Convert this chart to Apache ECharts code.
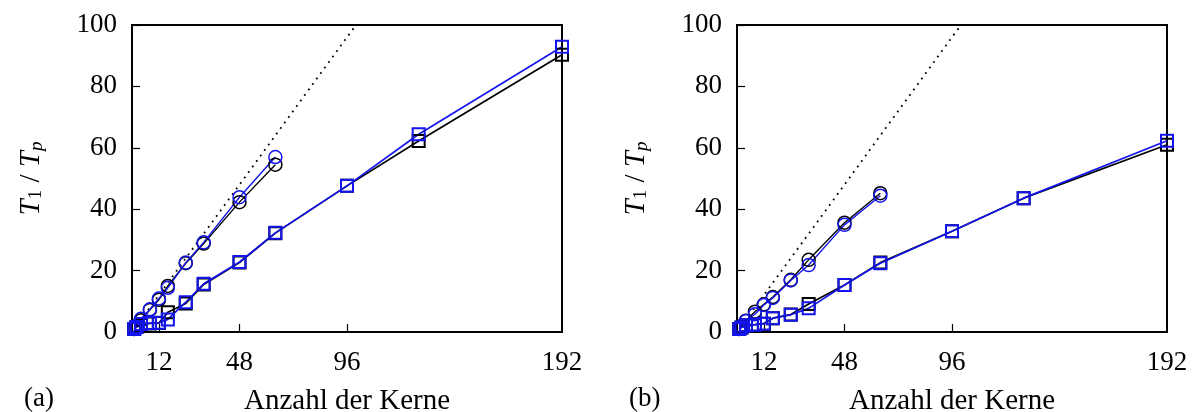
<!DOCTYPE html>
<html>
<head>
<meta charset="utf-8">
<script src="https://cdn.jsdelivr.net/npm/echarts@6/dist/echarts.min.js"></script>
<style>
  html, body { margin: 0; padding: 0; background: #fff; }
  #main { width: 1194px; height: 412px; }
</style>
</head>
<body>
<div id="main"></div>
<script>
// Anzahl der Kerne
const coresCircle = [1, 2, 4, 8, 12, 16, 24, 32, 48, 64];
const coresSquare = [1, 2, 4, 8, 12, 16, 24, 32, 48, 64, 96, 128, 192];
const xTickLabels = [12, 48, 96, 192];
const ideal = [0, 100];

// (a)
const aBlackCircle = [1, 1.9, 3.8, 7.2, 10.5, 15.0, 22.4, 28.8, 42.3, 54.5];
const aBlueCircle  = [1, 1.9, 4.3, 7.4, 10.9, 14.4, 22.6, 29.2, 43.9, 57.0];
const aBlackSquare = [1, 1.6, 2.3, 2.8, 2.9, 6.4, 9.3, 15.5, 22.6, 32.2, 47.6, 62.2, 90.3];
const aBlueSquare  = [1, 1.6, 2.6, 2.9, 3.0, 4.1, 9.7, 15.7, 22.8, 32.3, 47.6, 64.4, 92.9];

// (b)
const bBlackCircle = [1, 1.9, 3.7, 6.6, 9.0, 11.4, 17.0, 23.5, 35.6, 45.2];
const bBlueCircle  = [1, 1.9, 3.6, 5.8, 8.8, 11.1, 16.8, 21.8, 34.9, 44.4];
const bBlackSquare = [1, 1.5, 2.2, 2.4, 2.7, 4.5, 5.7, 9.1, 15.3, 22.6, 32.8, 43.6, 61.0];
const bBlueSquare  = [1, 1.5, 2.2, 2.4, 2.7, 4.5, 5.6, 7.7, 15.3, 22.4, 32.8, 43.6, 62.3];

const FONT = 'Liberation Serif';
const BLUE = '#1414ee';

function pairs(xs, ys) {
    return xs.map((x, i) => [x, ys[i]]);
}

function xAxisFor(idx) {
    return {
        type: 'value', gridIndex: idx, min: 0, max: 192,
        name: 'Anzahl der Kerne', nameLocation: 'middle', nameGap: 55,
        nameTextStyle: { fontFamily: FONT, fontSize: 29, color: '#000' },
        axisLine: { show: true, onZero: false, lineStyle: { color: '#000', width: 2 } },
        axisTick: { show: true, inside: true, length: 8, customValues: [12, 48, 96], lineStyle: { color: '#000', width: 1.2 } },
        axisLabel: { customValues: xTickLabels, margin: 17, fontFamily: FONT, fontSize: 27, color: '#000' },
        splitLine: { show: false }
    };
}

function yAxisFor(idx) {
    return {
        type: 'value', gridIndex: idx, min: 0, max: 100, interval: 20,
        name: '{i|T}{s|1}{n| / }{i|T}{sp|p}', nameLocation: 'middle', nameGap: 86,
        nameTextStyle: {
            color: '#000',
            rich: {
                i: { fontFamily: FONT, fontSize: 29, fontStyle: 'italic', color: '#000', lineHeight: 32, verticalAlign: 'bottom' },
                s: { fontFamily: FONT, fontSize: 19, color: '#000', lineHeight: 14, verticalAlign: 'bottom' },
                sp: { fontFamily: FONT, fontSize: 19, fontStyle: 'italic', color: '#000', lineHeight: 14, verticalAlign: 'bottom' },
                n: { fontFamily: FONT, fontSize: 29, color: '#000', lineHeight: 32, verticalAlign: 'bottom' }
            }
        },
        axisLine: { show: true, lineStyle: { color: '#000', width: 2 } },
        axisTick: { show: true, inside: true, length: 8, lineStyle: { color: '#000', width: 1.2 } },
        axisLabel: { margin: 15, fontFamily: FONT, fontSize: 27, color: '#000' },
        splitLine: { show: false }
    };
}

function seriesFor(idx, blackC, blueC, blackS, blueS) {
    const circle = (ys, color) => ({
        type: 'line', xAxisIndex: idx, yAxisIndex: idx, clip: false,
        data: pairs(coresCircle, ys),
        symbol: 'circle', symbolSize: 13,
        itemStyle: { color: 'transparent', borderColor: color, borderWidth: 1.5 },
        lineStyle: { color: color, width: 1.4 },
        emphasis: { disabled: true }
    });
    const square = (ys, color) => ({
        type: 'line', xAxisIndex: idx, yAxisIndex: idx, clip: false,
        data: pairs(coresSquare, ys),
        symbol: 'rect', symbolSize: 12,
        itemStyle: { color: 'transparent', borderColor: color, borderWidth: 2 },
        lineStyle: { color: color, width: 1.7 },
        emphasis: { disabled: true }
    });
    return [
        {
            type: 'line', xAxisIndex: idx, yAxisIndex: idx, clip: true,
            data: pairs(ideal, ideal), symbol: 'none',
            lineStyle: { color: '#000', width: 1.8, type: [1.8, 5] }
        },
        circle(blackC, '#000'),
        circle(blueC, BLUE),
        square(blackS, '#000'),
        square(blueS, BLUE)
    ];
}

const chart = echarts.init(document.getElementById('main'));
chart.setOption({
    animation: false,
    grid: [
        { left: 132, width: 430, top: 25, height: 307, outerBoundsMode: 'none', show: true, borderColor: '#000', borderWidth: 2 },
        { left: 737, width: 430, top: 25, height: 307, outerBoundsMode: 'none', show: true, borderColor: '#000', borderWidth: 2 }
    ],
    xAxis: [xAxisFor(0), xAxisFor(1)],
    yAxis: [yAxisFor(0), yAxisFor(1)],
    graphic: [
        { type: 'text', left: 24, top: 385, style: { text: '(a)', font: '27px "Liberation Serif"', fill: '#000' } },
        { type: 'text', left: 629, top: 385, style: { text: '(b)', font: '27px "Liberation Serif"', fill: '#000' } }
    ],
    series: [
        ...seriesFor(0, aBlackCircle, aBlueCircle, aBlackSquare, aBlueSquare),
        ...seriesFor(1, bBlackCircle, bBlueCircle, bBlackSquare, bBlueSquare)
    ]
});
</script>
</body>
</html>
